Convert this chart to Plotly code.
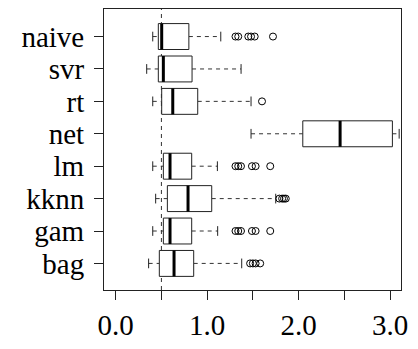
import plotly.graph_objects as go

# Model names, bottom to top
categories = ["bag", "gam", "kknn", "lm", "net", "rt", "svr", "naive"]

# Five-number summaries per model
lower_whisker = [0.36, 0.405, 0.437, 0.405, 1.48, 0.405, 0.339, 0.405]
q1 = [0.477, 0.521, 0.565, 0.521, 2.046, 0.503, 0.466, 0.466]
median = [0.638, 0.594, 0.791, 0.594, 2.454, 0.624, 0.521, 0.503]
q3 = [0.853, 0.831, 1.05, 0.831, 3.026, 0.897, 0.835, 0.80]
upper_whisker = [1.378, 1.115, 1.75, 1.112, 3.10, 1.48, 1.371, 1.149]

# Points beyond the whiskers
outliers = [
    [1.47, 1.50, 1.53, 1.58],
    [1.31, 1.34, 1.37, 1.49, 1.53, 1.69],
    [1.79, 1.82, 1.84, 1.86],
    [1.31, 1.34, 1.37, 1.49, 1.53, 1.69],
    [],
    [1.60],
    [],
    [1.31, 1.34, 1.45, 1.48, 1.52, 1.72],
]

x_ticks = [0.0, 0.5, 1.0, 1.5, 2.0, 2.5, 3.0]
x_tick_text = ["0.0", "", "1.0", "", "2.0", "", "3.0"]
reference_value = 0.5

BOX_HALF = 0.4
STAPLE_HALF = 0.15
FONT = "Liberation Serif, Times New Roman, serif"

positions = list(range(1, len(categories) + 1))

box_x, box_y = [], []
med_x, med_y = [], []
wh_x, wh_y = [], []
st_x, st_y = [], []
out_x, out_y = [], []
for p, lo, a, m, b, hi, outs in zip(positions, lower_whisker, q1, median, q3,
                                    upper_whisker, outliers):
    box_x += [a, b, b, a, a, None]
    box_y += [p - BOX_HALF, p - BOX_HALF, p + BOX_HALF, p + BOX_HALF, p - BOX_HALF, None]
    med_x += [m, m, None]
    med_y += [p - BOX_HALF, p + BOX_HALF, None]
    wh_x += [lo, a, None, b, hi, None]
    wh_y += [p, p, None, p, p, None]
    st_x += [lo, lo, None, hi, hi, None]
    st_y += [p - STAPLE_HALF, p + STAPLE_HALF, None, p - STAPLE_HALF, p + STAPLE_HALF, None]
    out_x += outs
    out_y += [p] * len(outs)

fig = go.Figure()
fig.add_trace(go.Scatter(x=wh_x, y=wh_y, mode="lines",
                         line=dict(color="#333333", width=1, dash="4px,4px"),
                         hoverinfo="skip"))
fig.add_trace(go.Scatter(x=st_x, y=st_y, mode="lines",
                         line=dict(color="#222222", width=1), hoverinfo="skip"))
fig.add_trace(go.Scatter(x=box_x, y=box_y, mode="lines", fill="toself",
                         fillcolor="white", line=dict(color="#222222", width=1),
                         hoverinfo="skip"))
fig.add_trace(go.Scatter(x=med_x, y=med_y, mode="lines",
                         line=dict(color="black", width=3), hoverinfo="skip"))
fig.add_trace(go.Scatter(x=out_x, y=out_y, mode="markers",
                         marker=dict(symbol="circle-open", size=7,
                                     color="black", line=dict(width=1))))

fig.add_shape(type="line", x0=reference_value, x1=reference_value, y0=0, y1=1,
              xref="x", yref="paper",
              line=dict(color="#333333", width=1, dash="4px,4px"), layer="below")

fig.update_layout(
    width=418, height=349,
    margin=dict(l=104, r=17, t=8, b=44),
    paper_bgcolor="white", plot_bgcolor="white",
    showlegend=False,
    font=dict(family=FONT, size=29, color="black"),
)
fig.update_xaxes(
    range=[-0.128, 3.12], tickvals=x_ticks, ticktext=x_tick_text,
    ticks="outside", ticklen=9, tickwidth=1, tickcolor="#222222",
    showline=True, linecolor="#222222", linewidth=1, mirror=True,
    showgrid=False, zeroline=False,
    tickfont=dict(family=FONT, size=29),
)
fig.update_yaxes(
    range=[0.18, 8.85], tickvals=positions, ticktext=categories,
    ticks="outside", ticklen=9, tickwidth=1, tickcolor="#222222",
    showline=True, linecolor="#222222", linewidth=1, mirror=True,
    showgrid=False, zeroline=False, ticklabelstandoff=4,
    tickfont=dict(family=FONT, size=29),
)

fig.write_html("out.html")
